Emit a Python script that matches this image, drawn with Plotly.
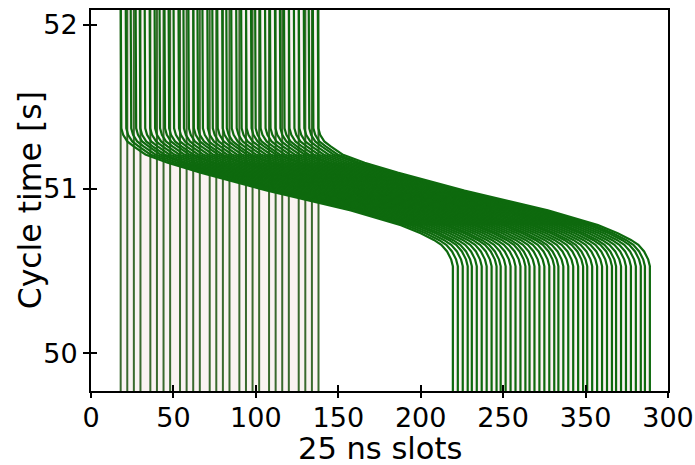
import plotly.graph_objects as go

# ---------------- data ----------------
# full-height bunch traces (slots)
slots_full = [18, 22, 26, 30, 36, 40, 44, 48, 54, 58, 62, 66, 72, 76, 80, 84,
              90, 94, 98, 102, 108, 112, 116, 120, 126, 130, 134, 138]
# bunch traces that shift along the cycle (start slots)
slots_shift = [18, 21, 24, 27, 29.5, 32.5, 35.5, 38.5, 41.5, 44.5, 47, 50,
               53, 56, 59, 62, 64.5, 67.5, 70.5, 73.5, 76.5, 79.5, 82, 85,
               88, 91, 94, 97, 99.5, 102.5, 105.5, 108.5, 111.5, 114.5, 117, 120,
               123, 126, 129, 132, 134.5, 137.5]
# shift profile: slot offset vs cycle time
shift_offset = [0.0, 0.4, 1.5, 4.0, 7.9, 15.0, 28.5, 48.5, 89.0, 139.6,
                170.0, 182.0, 190.0, 194.5, 198.0, 200.5, 201.5]
shift_time = [51.42, 51.37, 51.33, 51.29, 51.26, 51.21, 51.16, 51.10, 50.99, 50.87,
              50.78, 50.73, 50.69, 50.66, 50.62, 50.57, 50.53]

x_ticks = [0, 50, 100, 150, 200, 250, 300, 350]
x_ticktext = ["0", "50", "100", "150", "200", "250", "350", "300"]
y_ticks = [50, 51, 52]

X_RANGE = [0, 350]
Y_RANGE = [49.77, 52.09]
Y_LO, Y_HI = 49.6, 52.3

# ---------------- build ----------------
fig = go.Figure()

fill_col = "#faf3f2"
xl, xr = min(slots_full), max(slots_full)
fig.add_trace(go.Scatter(x=[xl, xr, xr, xl, xl], y=[Y_LO, Y_LO, Y_HI, Y_HI, Y_LO],
                         fill="toself", fillcolor=fill_col, mode="none",
                         hoverinfo="skip", showlegend=False))
xl2 = min(slots_shift) + shift_offset[-1]
xr2 = max(slots_shift) + shift_offset[-1]
ytop2 = shift_time[-1]
fig.add_trace(go.Scatter(x=[xl2, xr2, xr2, xl2, xl2], y=[Y_LO, Y_LO, ytop2, ytop2, Y_LO],
                         fill="toself", fillcolor=fill_col, mode="none",
                         hoverinfo="skip", showlegend=False))

xa, ya = [], []
for s in slots_full:
    xa += [s, s, None]
    ya += [Y_LO, Y_HI, None]
fig.add_trace(go.Scatter(x=xa, y=ya, mode="lines",
                         line=dict(color="#3a6a2e", width=2),
                         hoverinfo="skip", showlegend=False))

xb, yb = [], []
for s in slots_shift:
    xb += [s]
    yb += [Y_HI]
    xb += [s + u for u in shift_offset]
    yb += list(shift_time)
    xb += [s + shift_offset[-1], None]
    yb += [Y_LO, None]
fig.add_trace(go.Scatter(x=xb, y=yb, mode="lines",
                         line=dict(color="#0e6a0e", width=2.2),
                         hoverinfo="skip", showlegend=False))

fig.add_trace(go.Scatter(x=[None], y=[None], xaxis="x2", yaxis="y2",
                         mode="lines", hoverinfo="skip", showlegend=False))

font = "DejaVu Sans"
fig.update_layout(
    width=695, height=465,
    margin=dict(l=91, r=27, t=10, b=74),
    paper_bgcolor="white", plot_bgcolor="white",
    font=dict(family=font, size=27, color="black"),
    xaxis=dict(range=X_RANGE, tickvals=x_ticks, ticktext=x_ticktext,
               ticks="outside", ticklen=5, tickwidth=2, tickcolor="black",
               ticklabelstandoff=-3,
               showline=True, linecolor="black", linewidth=2, mirror=True,
               showgrid=False, zeroline=False, automargin=False,
               tickfont=dict(size=27, family=font)),
    yaxis=dict(range=Y_RANGE, tickvals=y_ticks,
               ticks="outside", ticklen=6, tickwidth=2, tickcolor="black",
               showline=True, linecolor="black", linewidth=2, mirror=True,
               showgrid=False, zeroline=False, automargin=False,
               tickfont=dict(size=27, family=font)),
    xaxis2=dict(range=X_RANGE, overlaying="x", anchor="y", side="bottom",
                tickvals=x_ticks, ticks="inside", ticklen=6, tickwidth=2, tickcolor="black",
                showticklabels=False, showgrid=False, zeroline=False, showline=False),
    yaxis2=dict(range=Y_RANGE, overlaying="y", anchor="x", side="left",
                tickvals=y_ticks, ticks="inside", ticklen=6, tickwidth=2, tickcolor="black",
                showticklabels=False, showgrid=False, zeroline=False, showline=False),
    annotations=[
        dict(text="Cycle time [s]", textangle=-90, xref="paper", yref="paper",
             x=-0.106, y=0.5, xanchor="center", yanchor="middle", showarrow=False,
             font=dict(size=31.5, family=font, color="black")),
        dict(text="25 ns slots", xref="paper", yref="paper",
             x=0.5, y=0, yshift=-448 + 391, xanchor="center", yanchor="middle",
             showarrow=False, borderpad=0,
             font=dict(size=30.5, family=font, color="black")),
    ],
)

fig.write_html("out.html", config={"displayModeBar": False},
               post_script="document.body.style.margin='0';document.body.style.overflow='hidden';")
